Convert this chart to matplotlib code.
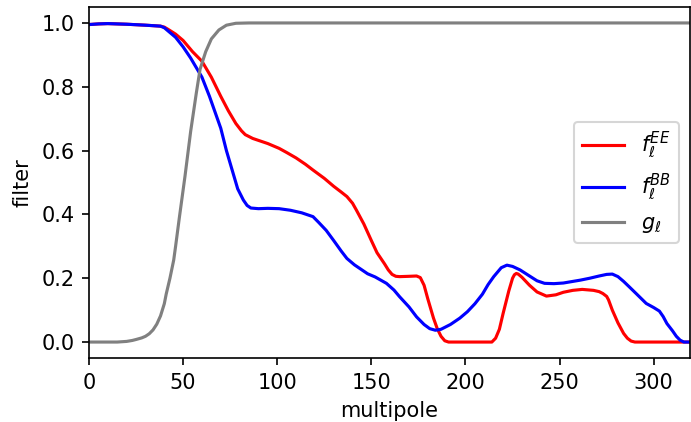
import matplotlib
matplotlib.use("Agg")
import matplotlib.pyplot as plt
import numpy as np

# values
ell_g = [0, 15, 20, 23, 25, 28, 30, 32, 34, 36, 38, 40, 41, 43, 45, 46, 48, 51, 54, 57, 59, 62,
         65, 69, 73, 78, 85, 320]
g_ell = [0.0, 0.0, 0.002, 0.005, 0.008, 0.013, 0.018, 0.026, 0.038, 0.056, 0.082, 0.12, 0.15,
         0.2, 0.257, 0.3, 0.39, 0.52, 0.66, 0.78, 0.855, 0.91, 0.95, 0.978, 0.993, 0.999, 1.0, 1.0]

ell_ee = [0, 5, 10, 20, 30, 38, 40, 42, 46, 50, 55, 60, 65, 70, 74, 78, 81, 83, 87, 90, 95, 101,
          105, 110, 115, 119, 125, 130, 134, 137, 140, 142, 146, 150, 153, 157, 159, 161, 163,
          165, 170, 174, 176, 178, 180, 183, 185, 187, 189, 191, 214, 216, 218, 220, 223, 225,
          226, 227, 228, 230, 234, 238, 243, 248, 252, 257, 262, 268, 271, 273, 275, 276, 278,
          281, 284, 286, 288, 290, 320]
f_ee = [0.995, 0.997, 0.998, 0.996, 0.993, 0.99, 0.987, 0.98, 0.965, 0.945, 0.91, 0.88, 0.83,
        0.77, 0.725, 0.685, 0.662, 0.65, 0.638, 0.632, 0.622, 0.607, 0.594, 0.577, 0.557, 0.539,
        0.513, 0.488, 0.47, 0.456, 0.435, 0.414, 0.37, 0.318, 0.28, 0.245, 0.226, 0.212, 0.206,
        0.205, 0.206, 0.207, 0.202, 0.178, 0.135, 0.075, 0.042, 0.018, 0.004, 0.0, 0.0, 0.012,
        0.04, 0.09, 0.16, 0.2, 0.211, 0.215, 0.213, 0.203, 0.178, 0.157, 0.144, 0.148, 0.156,
        0.162, 0.165, 0.162, 0.158, 0.152, 0.143, 0.132, 0.10, 0.06, 0.027, 0.012, 0.003, 0.0,
        0.0]

ell_bb = [0, 5, 10, 20, 30, 38, 40, 42, 46, 50, 54, 57, 60, 64, 67, 70, 73, 76, 79, 82, 84, 86,
          90, 95, 101, 107, 113, 119, 122, 126, 130, 134, 137, 141, 145, 148, 152, 158, 162, 165,
          170, 174, 178, 181, 184, 187, 192, 197, 201, 205, 209, 212, 215, 219, 222, 225, 229,
          234, 238, 242, 247, 252, 257, 261, 266, 271, 275, 278, 281, 284, 287, 291, 296, 300,
          303, 305, 307, 310, 312, 314, 316, 320]
f_bb = [0.995, 0.997, 0.998, 0.996, 0.993, 0.99, 0.985, 0.975, 0.955, 0.925, 0.89, 0.86, 0.83,
        0.77, 0.72, 0.67, 0.6, 0.54, 0.48, 0.445, 0.428, 0.42, 0.418, 0.419, 0.418, 0.413, 0.405,
        0.393, 0.375, 0.35, 0.318, 0.285, 0.262, 0.242, 0.226, 0.214, 0.204, 0.184, 0.163, 0.142,
        0.11, 0.079, 0.055, 0.042, 0.037, 0.04, 0.055, 0.075, 0.095, 0.12, 0.15, 0.18, 0.205,
        0.233, 0.241, 0.237, 0.226, 0.207, 0.192, 0.184, 0.183, 0.185, 0.19, 0.194, 0.2, 0.207,
        0.212, 0.213, 0.205, 0.19, 0.173, 0.15, 0.121, 0.108, 0.097, 0.08, 0.058, 0.035, 0.018,
        0.006, 0.0, 0.0]

fig = plt.figure(figsize=(691 / 150, 422 / 150), dpi=150)
ax = fig.add_axes([89 / 691, 1 - 358 / 422, (689.5 - 89) / 691, (358 - 7) / 422])

ax.plot(ell_ee, f_ee, color="red", label=r"$f_\ell^{EE}$")
ax.plot(ell_bb, f_bb, color="blue", label=r"$f_\ell^{BB}$")
ax.plot(ell_g, g_ell, color="grey", label=r"$g_\ell$")

ax.set_xlim(0, 319)
ax.set_ylim(-0.05, 1.05)
ax.set_xticks([0, 50, 100, 150, 200, 250, 300])
ax.set_yticks([0.0, 0.2, 0.4, 0.6, 0.8, 1.0])
ax.set_xlabel("multipole")
ax.set_ylabel("filter")
ax.legend(loc="center right")

fig.savefig("out.png", dpi=150)
